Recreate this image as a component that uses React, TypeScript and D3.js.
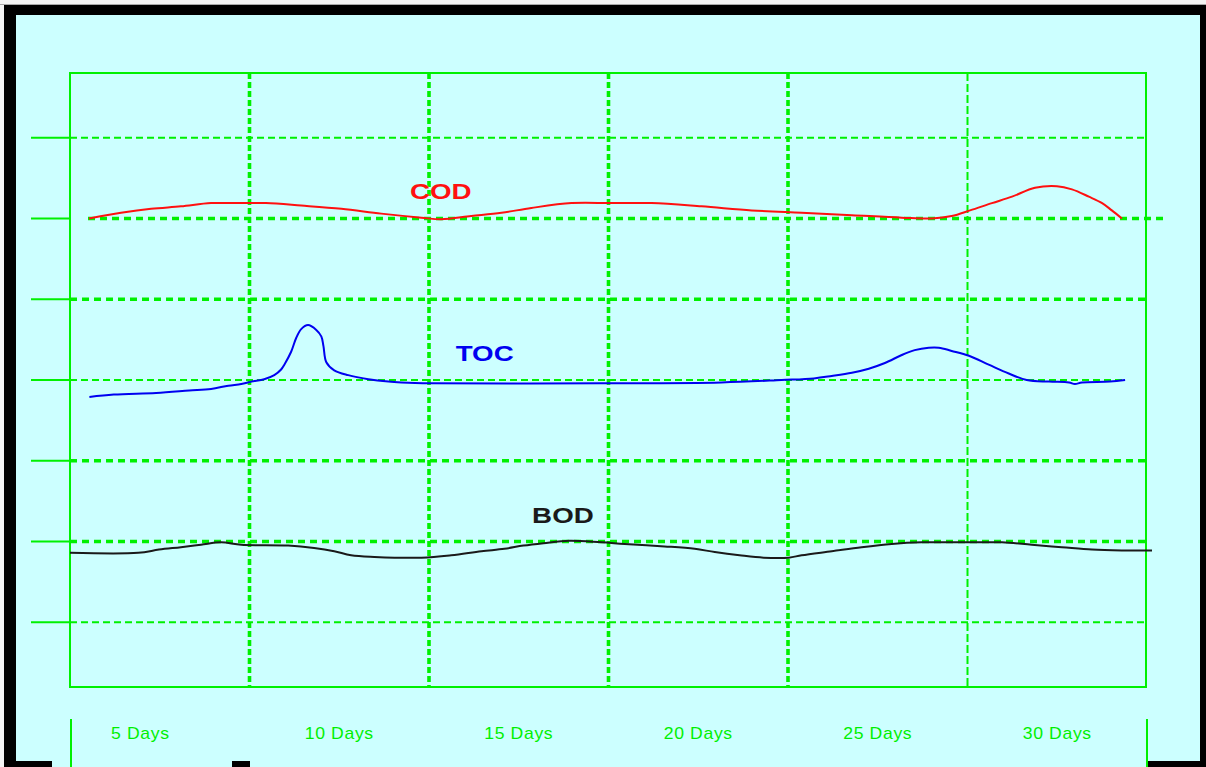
import React from "react";
import * as d3 from "d3";

// ---- data ----
const dayLabels = ["5 Days", "10 Days", "15 Days", "20 Days", "25 Days", "30 Days"];
const dayLabelAt = [4.46, 10, 15, 20, 25, 30];

const hLineValues = [7, 6, 5, 4, 3, 2, 1];
const hLineHeavy = [6, 5, 3, 2];
const vLineDays = [7.5, 12.5, 17.5, 22.5, 27.5];
const vLineHeavy = [7.5, 12.5, 17.5, 22.5];

const codDays = [3.03, 3.92, 4.76, 5.59, 6.43, 7.27, 7.96, 8.94, 10.06, 11.17, 12.29, 12.84, 13.68, 14.52, 15.35, 16.47, 17.58, 18.7, 20.09, 21.49, 22.88, 24.28, 25.67, 26.51, 27.06, 27.57, 28.18, 28.74, 29.38, 29.99, 30.41, 30.88, 31.25, 31.52, 31.8];
const codValues = [6.0, 6.07, 6.12, 6.15, 6.19, 6.19, 6.19, 6.16, 6.12, 6.06, 6.01, 5.99, 6.03, 6.07, 6.13, 6.19, 6.19, 6.19, 6.15, 6.1, 6.07, 6.04, 6.01, 6.0, 6.03, 6.1, 6.19, 6.27, 6.38, 6.4, 6.36, 6.27, 6.19, 6.1, 6.0];

const tocDays = [3.04, 3.72, 4.9, 5.82, 6.43, 6.91, 7.27, 7.55, 7.91, 8.19, 8.38, 8.47, 8.66, 8.8, 8.94, 9.13, 9.36, 9.5, 9.56, 9.64, 9.86, 10.25, 10.81, 11.37, 11.73, 12.56, 17.3, 20.65, 22.32, 23.22, 23.72, 24.28, 24.75, 25.2, 25.67, 26.03, 26.42, 26.7, 27.06, 27.54, 28.09, 28.65, 29.15, 29.77, 30.33, 30.49, 30.69, 31.47, 31.89];
const tocValues = [3.79, 3.82, 3.84, 3.87, 3.89, 3.93, 3.95, 3.98, 4.01, 4.06, 4.13, 4.19, 4.35, 4.52, 4.63, 4.68, 4.62, 4.54, 4.42, 4.22, 4.12, 4.06, 4.01, 3.98, 3.97, 3.96, 3.96, 3.97, 4.0, 4.02, 4.05, 4.09, 4.14, 4.21, 4.31, 4.37, 4.4, 4.4, 4.36, 4.3, 4.19, 4.08, 4.0, 3.98, 3.97, 3.95, 3.97, 3.98, 4.0];

const bodDays = [2.5, 4.4, 4.98, 5.59, 6.15, 6.71, 7.27, 8.58, 9.3, 9.86, 10.33, 10.98, 12.29, 13.12, 13.96, 14.6, 15.13, 15.69, 16.41, 17.3, 17.95, 19.06, 19.9, 20.46, 21.15, 21.82, 22.52, 22.88, 23.72, 24.55, 25.39, 26.23, 27.34, 28.46, 29.29, 30.13, 30.97, 31.8, 32.64];
const bodValues = [1.86, 1.86, 1.9, 1.93, 1.96, 1.99, 1.96, 1.95, 1.92, 1.88, 1.83, 1.81, 1.8, 1.83, 1.88, 1.91, 1.95, 1.98, 2.01, 1.99, 1.97, 1.94, 1.91, 1.87, 1.83, 1.8, 1.8, 1.83, 1.88, 1.93, 1.97, 1.99, 1.99, 1.99, 1.96, 1.93, 1.9, 1.89, 1.89];

const seriesNames = ["COD", "TOC", "BOD"];
const seriesLabelDay = [12.83, 14.05, 16.23];
const seriesLabelValue = [6.24, 4.23, 2.23];

// ---- layout / style ----
const W = 1206;
const H = 767;
const GREEN = "#00f000";
const CYAN = "#ccffff";
const seriesColors = ["#ff1010", "#0000f0", "#1a1a1a"];

const x = d3.scaleLinear().domain([2.5, 32.5]).range([70, 1147]);
const y = d3.scaleLinear().domain([1, 7]).range([622.3, 137.7]);

const frame = { left: 70, right: 1146, top: 73, bottom: 687 };

export default function App() {
  const line = d3
    .line<[number, number]>()
    .x((d) => x(d[0]))
    .y((d) => y(d[1]))
    .curve(d3.curveCatmullRom.alpha(0.5));

  const series = [
    d3.zip(codDays, codValues) as [number, number][],
    d3.zip(tocDays, tocValues) as [number, number][],
    d3.zip(bodDays, bodValues) as [number, number][],
  ];

  const hExtent = (v: number): [number, number] => {
    if (v === 6) return [88, 1165];
    if (v === 4) return [frame.left, 1125];
    return [frame.left, 1148];
  };

  return (
    <svg
      width={W}
      height={H}
      style={{ position: "absolute", left: 0, top: 0, display: "block" }}
      fontFamily="'Liberation Sans', Arial, sans-serif"
    >
      {/* page + black frame */}
      <rect x={0} y={0} width={W} height={H} fill="#f4f4f4" />
      <line x1={0} x2={W} y1={4.5} y2={4.5} stroke="#a8a8a8" strokeWidth={1} />
      <rect x={4} y={5} width={W - 4} height={H - 5} fill="#000" />
      <rect x={16} y={15} width={1184} height={746} fill={CYAN} />
      <rect x={52} y={760} width={180} height={8} fill={CYAN} />
      <rect x={250} y={760} width={897} height={8} fill={CYAN} />

      {/* left ticks */}
      {hLineValues.map((v) => (
        <line key={"t" + v} x1={31} x2={frame.left} y1={y(v)} y2={y(v)} stroke={GREEN} strokeWidth={2} />
      ))}

      {/* horizontal grid */}
      {hLineValues.map((v) => {
        const heavy = hLineHeavy.includes(v);
        const [a, b] = hExtent(v);
        return (
          <line
            key={"h" + v}
            x1={a}
            x2={b}
            y1={y(v)}
            y2={y(v)}
            stroke={GREEN}
            strokeWidth={heavy ? 3.6 : 2}
            strokeDasharray={heavy ? "7 5" : "7 4"}
          />
        );
      })}

      {/* vertical grid */}
      {vLineDays.map((d) => {
        const heavy = vLineHeavy.includes(d);
        return (
          <line
            key={"v" + d}
            x1={x(d)}
            x2={x(d)}
            y1={frame.top}
            y2={frame.bottom}
            stroke={GREEN}
            strokeWidth={heavy ? 3.6 : 2}
            strokeDasharray={heavy ? "6 3" : "8 3"}
          />
        );
      })}

      {/* plot frame */}
      <rect
        x={frame.left}
        y={frame.top}
        width={frame.right - frame.left}
        height={frame.bottom - frame.top}
        fill="none"
        stroke={GREEN}
        strokeWidth={2}
      />

      {/* series */}
      {series.map((s, i) => (
        <path key={"s" + i} d={line(s) || ""} fill="none" stroke={seriesColors[i]} strokeWidth={2} />
      ))}

      {/* series labels */}
      {seriesNames.map((n, i) => (
        <text
          key={"l" + n}
          transform={`translate(${x(seriesLabelDay[i])},${y(seriesLabelValue[i])}) scale(1.26,1)`}
          textAnchor="middle"
          fontSize={22}
          fontWeight="bold"
          fill={seriesColors[i]}
        >
          {n}
        </text>
      ))}

      {/* bottom axis strip */}
      <line x1={71} x2={71} y1={719} y2={H} stroke={GREEN} strokeWidth={2} />
      <line x1={1147} x2={1147} y1={719} y2={H} stroke={GREEN} strokeWidth={2} />
      {dayLabels.map((t, i) => (
        <text
          key={"d" + t}
          transform={`translate(${x(dayLabelAt[i])},739) scale(1.1,1)`}
          textAnchor="middle"
          fontSize={16}
          letterSpacing={0.6}
          fill={GREEN}
        >
          {t}
        </text>
      ))}
    </svg>
  );
}
